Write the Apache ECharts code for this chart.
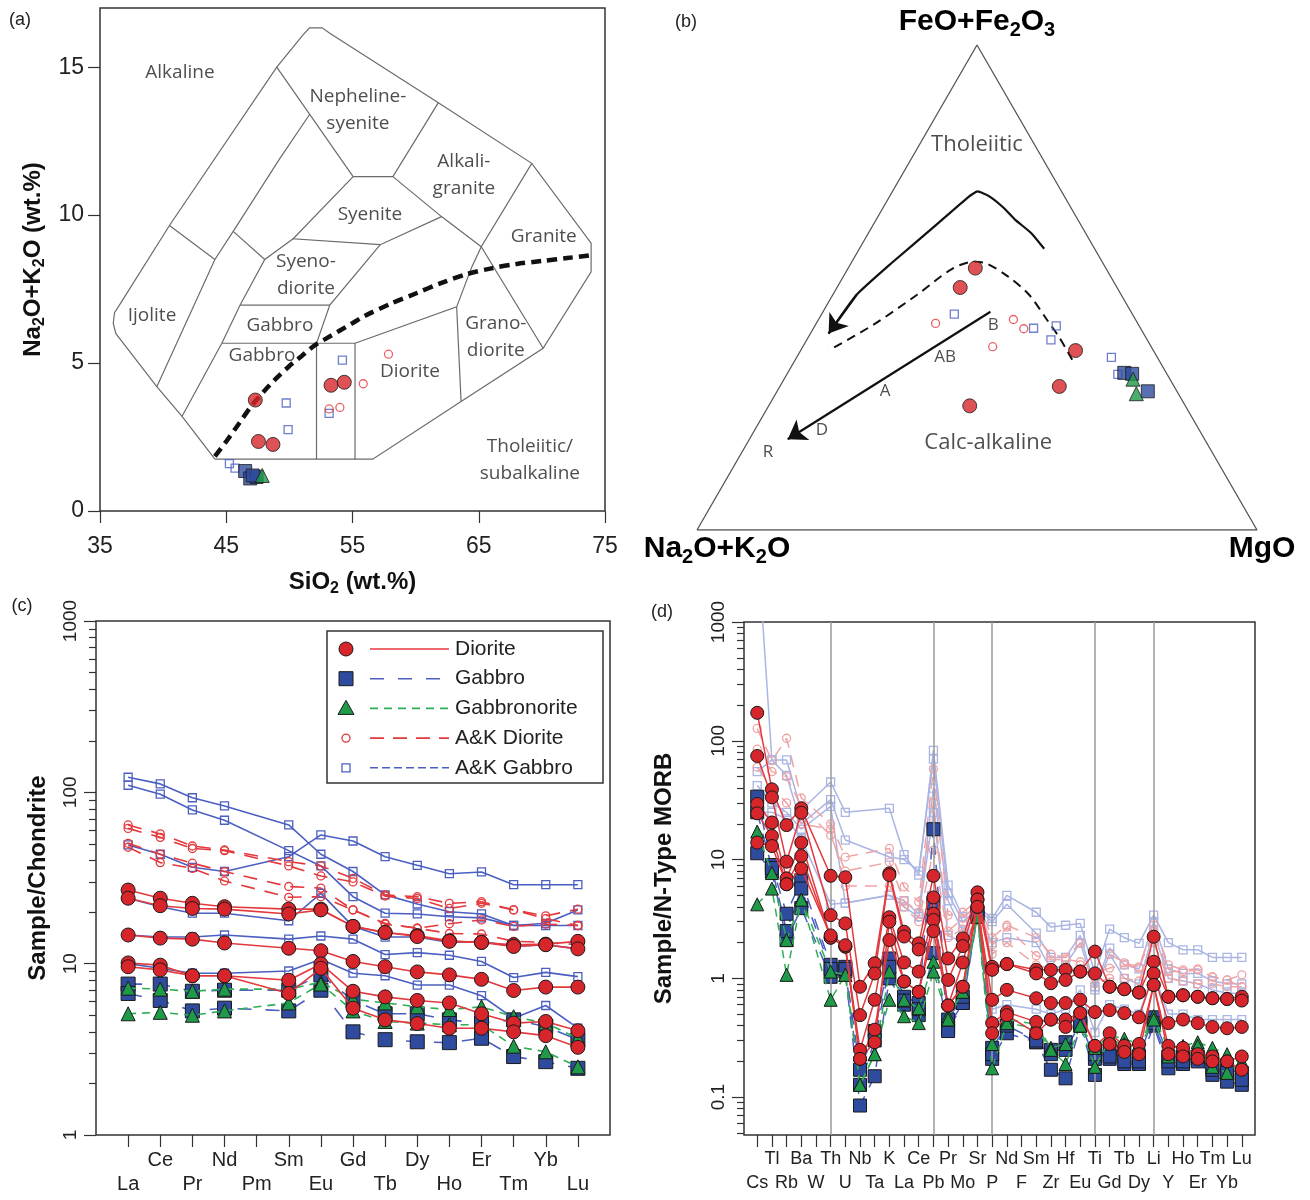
<!DOCTYPE html>
<html>
<head>
<meta charset="utf-8">
<script src="https://cdn.jsdelivr.net/npm/echarts@6/dist/echarts.min.js"></script>
<style>html,body{margin:0;padding:0;background:#fff}#main{width:1310px;height:1200px}</style>
</head>
<body>
<div id="main"></div>
<script>
// ---------- (a) TAS diagram, SiO2 vs Na2O+K2O (wt.%) ----------
var tasDiorite = [[47.3, 3.75], [47.55, 2.35], [48.7, 2.25], [53.3, 4.25], [54.35, 4.35]];
var tasGabbro = [[46.5, 1.35], [46.9, 1.1], [47.4, 1.15], [47.1, 1.2]];
var tasGabbronorite = [[47.85, 1.2]];
var tasAkDiorite = [[53.15, 3.45], [54.0, 3.5], [55.85, 4.3], [57.85, 5.3]];
var tasAkGabbro = [[54.2, 5.1], [49.75, 3.65], [49.9, 2.75], [53.15, 3.3], [45.25, 1.6], [45.7, 1.45]];

// field boundaries (Cox et al. plutonic version)
var tasFieldLines = [
  [[44.1, 1.75], [56.6, 1.75], [63.6, 3.7], [70.1, 5.5], [73.9, 8.08], [73.9, 9.05], [69.2, 11.75], [61.8, 13.8],
   [53.2, 16.15], [52.6, 16.33], [51.6, 16.33], [51.1, 16.1], [49.0, 15.0], [40.5, 9.65], [36.6, 7.0], [36.15, 6.7],
   [36.05, 6.35], [36.25, 6.0], [36.7, 5.75], [39.5, 4.2], [41.5, 3.2], [44.1, 1.75]],
  [[49.0, 15.0], [55.05, 11.3]],
  [[55.05, 11.3], [58.2, 11.3], [61.8, 13.8]],
  [[58.2, 11.3], [62.05, 9.95], [65.2, 8.93]],
  [[69.2, 11.75], [65.2, 8.93], [70.1, 5.5]],
  [[55.05, 11.3], [50.3, 9.2], [57.2, 9.0], [62.05, 9.95]],
  [[51.6, 13.4], [49.25, 11.92], [45.55, 9.45], [44.1, 8.5], [39.5, 4.2]],
  [[40.5, 9.65], [44.1, 8.5]],
  [[45.55, 9.45], [48.05, 8.5]],
  [[50.3, 9.2], [48.05, 8.5], [46.1, 6.96], [44.65, 5.67], [41.5, 3.2]],
  [[57.2, 9.0], [53.2, 6.96], [52.15, 5.67], [52.15, 1.75]],
  [[46.1, 6.96], [53.2, 6.96]],
  [[44.65, 5.67], [55.2, 5.67], [55.2, 1.75]],
  [[55.2, 5.67], [63.25, 6.9], [64.45, 8.25], [65.2, 8.93]],
  [[63.25, 6.9], [63.6, 3.7]]
];
// alkaline / subalkaline divide
var tasDivide = [[44.1, 1.85], [45, 2.35], [46, 2.95], [47, 3.55], [48, 4.05], [49, 4.5], [50, 4.9], [51, 5.25],
  [52, 5.6], [53, 5.85], [54, 6.1], [55, 6.35], [56, 6.6], [58, 7.0], [60, 7.35], [62, 7.7], [64, 8.0],
  [66, 8.2], [68, 8.35], [70, 8.45], [72, 8.55], [74, 8.65]];
var tasFieldNames = [
  ['Alkaline', 41.33, 14.83], ['Nepheline-\nsyenite', 55.43, 13.55], ['Alkali-\ngranite', 63.82, 11.35],
  ['Syenite', 56.38, 10.03], ['Granite', 70.15, 9.29], ['Syeno-\ndiorite', 51.31, 7.97], ['Ijolite', 39.12, 6.59],
  ['Gabbro', 49.25, 6.25], ['Gabbro', 47.83, 5.24], ['Grano-\ndiorite', 66.35, 5.88], ['Diorite', 59.55, 4.7],
  ['Tholeiitic/\nsubalkaline', 69.05, 1.72]
];

// ---------- (b) AFM ternary, [Na2O+K2O, FeO+Fe2O3, MgO] % ----------
var afmDiorite = [[23.3, 54.0, 22.7], [28.0, 50.0, 22.0], [13.9, 37.0, 49.1], [20.5, 29.6, 49.9], [38.5, 25.6, 35.9]];
var afmGabbro = [[7.5, 32.4, 60.1], [6.2, 32.2, 61.6], [5.2, 28.6, 66.2]];
var afmGabbronorite = [[6.6, 31.1, 62.3], [7.5, 28.1, 64.4]];
var afmAkDiorite = [[36.1, 42.6, 21.3], [21.8, 43.4, 34.8], [20.9, 41.5, 37.6], [28.3, 37.8, 33.9]];
var afmAkGabbro = [[31.8, 44.5, 23.7], [19.1, 41.6, 39.3], [14.8, 42.1, 43.1], [17.2, 39.2, 43.6], [8.2, 35.6, 56.2], [8.8, 32.1, 59.1]];
// curves in triangle plane (x along base, y = FeO fraction)
var afmTholeiiticCurve = [[0.620, 0.580], [0.597, 0.612], [0.568, 0.640], [0.548, 0.664], [0.522, 0.688], [0.501, 0.698],
  [0.485, 0.687], [0.424, 0.626], [0.347, 0.550], [0.285, 0.485], [0.235, 0.405]];
var afmCalcCurve = [[0.670, 0.351], [0.647, 0.397], [0.624, 0.435], [0.593, 0.485], [0.555, 0.523], [0.516, 0.550],
  [0.493, 0.553], [0.455, 0.538], [0.393, 0.485], [0.316, 0.424], [0.235, 0.370]];
var afmTrend = [[0.524, 0.450], [0.162, 0.187]];
var afmNames = [['Tholeiitic', 0.5, 0.794, 22], ['Calc-alkaline', 0.52, 0.179, 22], ['B', 0.529, 0.423, 17],
  ['AB', 0.443, 0.357, 17], ['A', 0.336, 0.287, 17], ['D', 0.223, 0.206, 17], ['R', 0.127, 0.161, 17]];

// ---------- (c) chondrite-normalised REE ----------
var reeElements = ['La', 'Ce', 'Pr', 'Nd', 'Pm', 'Sm', 'Eu', 'Gd', 'Tb', 'Dy', 'Ho', 'Er', 'Tm', 'Yb', 'Lu'];
var reeDiorite = [
  [26.9, 24.1, 22.5, 21.5, null, 20.8, 20.8, 16.5, 15.2, 14.6, 13.6, 13.3, 12.9, 13.0, 13.5],
  [24.1, 21.8, 21.0, 20.8, null, 19.5, 20.6, 16.5, 15.2, 14.4, 13.5, 13.3, 12.6, 12.9, 12.2],
  [14.7, 14.1, 13.9, 13.2, null, 12.3, 11.9, 10.3, 9.6, 8.95, 8.6, 8.1, 6.97, 7.3, 7.3],
  [10.1, 9.8, 8.5, 8.5, null, 8.0, 9.96, 6.9, 6.4, 6.1, 5.9, 5.1, 4.5, 4.6, 4.06],
  [9.6, 9.2, 8.5, 8.5, null, 6.7, 9.4, 5.5, 4.7, 4.47, 4.2, 4.2, 4.0, 3.8, 3.25]
];
var reeGabbro = [
  [7.6, 7.6, 6.9, 7.0, null, 7.0, 8.6, 6.1, 5.1, 5.1, 4.7, 4.5, 4.7, 4.3, 3.6],
  [6.7, 6.1, 5.3, 5.5, null, 5.3, 7.0, 4.0, 3.6, 3.5, 3.46, 3.67, 2.87, 2.68, 2.45]
];
var reeGabbronorite = [
  [7.2, 7.1, 6.9, 7.1, null, 7.1, 7.8, 6.2, 5.9, 5.6, 5.4, 5.6, 4.9, 4.5, 3.67],
  [5.1, 5.2, 5.0, 5.3, null, 5.9, 7.6, 5.3, 4.6, 4.5, 4.4, 4.4, 3.3, 3.06, 2.5]
];
var reeAkDiorite = [
  [64.5, 57.2, 48.6, 46.1, null, 39.4, 37.2, 31.5, 25.2, 24.6, 22.5, 23.0, 20.6, 19.0, 20.8],
  [61.6, 54.6, 47.0, 45.7, null, 37.2, 32.5, 30.0, 24.8, 24.0, 21.0, 22.5, 20.6, 18.3, 16.7],
  [50.4, 43.5, 38.6, 34.5, null, 28.2, 27.6, 20.6, 17.2, 16.1, 17.1, 18.0, 16.5, 17.0, 16.7],
  [47.8, 38.9, 36.0, 30.4, null, 24.4, 24.6, 20.6, 17.0, 16.1, 15.0, 14.9, 13.5, 13.3, 12.9]
];
var reeAkGabbro = [
  [122.5, 112, 93, 83.3, null, 64.5, 43.5, 34.5, 25.2, 22.3, 20.1, 19.5, 16.7, 17.2, 20.6],
  [110, 97.5, 78.9, 68.7, null, 45.7, 37.2, 24.6, 19.7, 19.5, 18.8, 18.5, 16.7, 16.7, 16.7],
  [49.3, 43.5, 36.5, 34.5, null, 42.1, 56.4, 52, 42.1, 37.5, 33.5, 34.3, 28.9, 28.9, 28.9],
  [24.1, 21.5, 19.7, 19.7, null, 17.8, 25.7, 16.5, 14.3, 14.3, 13.3, 13.5, 12.6, 12.9, 12.2],
  [14.7, 14.3, 14.3, 14.7, null, 13.9, 14.5, 13.9, 11.3, 11.6, 11.2, 10.3, 8.3, 8.9, 8.4],
  [10.0, 9.4, 8.8, 8.8, null, 9.06, 10.6, 8.8, 8.5, 7.5, 7.5, 6.5, 4.8, 5.7, 4.2]
];

// ---------- (d) N-MORB normalised spider ----------
var spiderElements = ['Cs', 'Tl', 'Rb', 'Ba', 'W', 'Th', 'U', 'Nb', 'Ta', 'K', 'La', 'Ce', 'Pb', 'Pr', 'Mo', 'Sr', 'P',
  'Nd', 'F', 'Sm', 'Zr', 'Hf', 'Eu', 'Ti', 'Gd', 'Tb', 'Dy', 'Li', 'Y', 'Ho', 'Er', 'Tm', 'Yb', 'Lu'];
var spiderDividers = ['Th', 'Pb', 'P', 'Ti', 'Li'];
var spDiorite = [
  [172, 39, 19.5, 27, null, 7.3, 7.1, 0.85, 1.34, 7.66, 2.47, 1.97, 7.3, 1.47, 2.17, 5.3, 1.25, 1.32, null, 1.18, 1.18, 1.18, 1.14, 1.68, 0.85, 0.81, 0.76, 2.24, 0.70, 0.72, 0.70, 0.68, 0.67, 0.70],
  [74.5, 33.4, 9.6, 24.8, null, 3.4, 2.9, 0.49, 1.1, 7.4, 2.25, 1.75, 4.8, 0.97, 1.87, 4.6, 1.18, 1.32, null, 1.10, 0.91, 0.97, 1.14, 1.10, 0.85, 0.81, 0.76, 1.38, 0.70, 0.72, 0.70, 0.68, 0.67, 0.65],
  [29.4, 20.5, 6.95, 13.9, null, 2.2, 1.85, 0.25, 0.66, 3.27, 1.36, 1.14, 3.5, 0.59, 1.36, 4.0, 0.66, 0.80, null, 0.68, 0.62, 0.62, 0.66, 0.52, 0.54, 0.51, 0.47, 1.10, 0.42, 0.45, 0.42, 0.39, 0.38, 0.39],
  [24.5, 15.8, 6.2, 10.7, null, 2.2, 1.85, 0.21, 0.37, 2.1, 0.94, 0.77, 3.1, 0.59, 0.85, 4.6, 0.42, 0.52, null, 0.43, 0.45, 0.45, 0.51, 0.27, 0.345, 0.27, 0.28, 0.88, 0.27, 0.26, 0.23, 0.22, 0.20, 0.22],
  [13.9, 13.0, 6.2, 8.4, null, 2.3, 1.9, 0.21, 0.29, 3.0, 0.94, 0.77, 2.5, 0.59, 0.85, 4.0, 0.345, 0.49, null, 0.345, 0.45, 0.39, 0.51, 0.27, 0.28, 0.24, 0.23, 0.88, 0.23, 0.22, 0.21, 0.20, 0.20, 0.17]
];
var spGabbro = [
  [33.8, 9.0, 3.5, 6.7, null, 1.3, 1.25, 0.17, 0.36, 1.47, 0.70, 0.62, 18, 0.39, 0.62, 3.5, 0.26, 0.40, null, 0.29, 0.23, 0.29, 0.42, 0.21, 0.25, 0.24, 0.22, 0.47, 0.22, 0.22, 0.21, 0.19, 0.17, 0.16],
  [11.3, 7.9, 2.1, 3.9, null, 1.03, 1.14, 0.085, 0.15, 1.0, 0.60, 0.49, 1.63, 0.36, 0.62, 3.3, 0.21, 0.345, null, 0.29, 0.17, 0.144, 0.40, 0.154, 0.21, 0.19, 0.19, 0.40, 0.175, 0.19, 0.20, 0.154, 0.135, 0.127],
  [25, 8.5, 2.5, 5.7, null, 1.2, 1.2, 0.127, 0.3, 1.25, 0.65, 0.55, 4.3, 0.45, 0.7, 3.6, 0.23, 0.40, null, 0.30, 0.25, 0.25, 0.42, 0.23, 0.22, 0.20, 0.20, 0.42, 0.20, 0.20, 0.22, 0.17, 0.16, 0.14]
];
var spGabbronorite = [
  [17.2, 7.7, 2.1, 4.6, null, 1.14, 1.07, 0.127, 0.23, 1.14, 0.66, 0.56, 1.38, 0.48, 0.77, 3.3, 0.28, 0.45, null, 0.41, 0.26, 0.28, 0.40, 0.26, 0.33, 0.31, 0.28, 0.48, 0.26, 0.27, 0.29, 0.26, 0.23, 0.19],
  [4.2, 5.7, 1.07, 4.6, null, 0.66, 1.07, 0.127, 0.23, 0.66, 0.48, 0.42, 1.14, 0.45, 0.77, 3.3, 0.175, 0.42, null, 0.38, 0.25, 0.19, 0.40, 0.18, 0.30, 0.28, 0.26, 0.45, 0.22, 0.25, 0.27, 0.18, 0.16, 0.20]
];
var spAkDiorite = [
  [127, 68, 105, 33, null, 20, 10.5, null, null, 12.4, 5.9, 4.4, 58, 3.4, 3.6, 4.5, 2.2, 2.8, null, 2.2, 1.6, 1.5, 1.97, 1.7, 1.6, 1.35, 1.25, 2.8, 1.3, 1.18, 1.2, 1.03, 0.97, 1.07],
  [85, 55, 50, 28, null, 16, 8, null, null, 9.5, 4.5, 3.6, 30, 2.5, 3.2, 4.2, 1.9, 2.7, null, 1.55, 1.43, 1.45, 1.38, 1.1, 1.22, 1.3, 1.22, 2.5, 1.14, 1.14, 1.18, 1.03, 0.97, 0.85],
  [60, 40, 30, 20, null, 18, 6, null, null, 6, 4, 3.0, 12, 2.2, 2.6, 4.0, 1.6, 2.0, null, 1.3, 1.2, 1.1, 1.3, 0.9, 1.0, 1.0, 0.95, 2.0, 1.0, 0.95, 0.9, 0.9, 0.85, 0.85]
];
var spAkGabbro = [
  [5000, 69, 69, 26, null, 45, 25, null, null, 27, 11, 7.4, 83, 6.1, 3.3, 4.0, 3.2, 5.0, null, 3.6, 2.7, 2.8, 2.9, 1.1, 2.6, 2.2, 1.97, 3.4, 2.0, 1.74, 1.74, 1.5, 1.5, 1.5],
  [55, 69, 51, 20, null, 32, 14.6, null, null, 10.5, 10, 8.0, 70, 5.2, 3.0, 3.8, 3.0, 4.2, null, 2.4, 1.5, 1.5, 2.3, 0.85, 1.8, 1.3, 1.2, 3.0, 1.2, 1.1, 1.1, 0.95, 0.9, 0.9],
  [42, 30, 25, 18, null, 28, 4.3, null, null, 5, 4.5, 3.5, 40, 4.5, 2.5, 3.5, 2.0, 2.2, null, 2.0, 1.2, 1.3, 2.0, 0.8, 1.6, 1.0, 0.9, 2.5, 1.0, 0.95, 0.9, 0.8, 0.75, 0.75],
  [25, 25, 22, 15, null, 4.2, 4.3, null, null, 5, 4.0, 3.3, 25, 2.3, 2.0, 3.2, 0.55, 0.6, null, 0.55, 0.5, 0.55, 0.8, 0.35, 0.6, 0.55, 0.5, 1.1, 0.5, 0.5, 0.45, 0.45, 0.45, 0.45]
];

var legendItems = ['Diorite', 'Gabbro', 'Gabbronorite', 'A&K Diorite', 'A&K Gabbro'];

// ---------------------------------------------------------------------------
var AX = 'Liberation Sans, Arial, Helvetica, sans-serif';
var FLD = 'Open Sans, Liberation Sans, sans-serif';
var RED = '#d6262b', BLUE = '#2e4b9e', GREEN = '#1f9a48';
var RED_L = '#e3393d', BLUE_L = '#4b5fc0', GREEN_L = '#2fae55';
var PINK = '#f0a3a5', SKY = '#aab5e3';
var CLEAR = 'rgba(255,255,255,0)';

var sty = {
  diorite: { symbol: 'circle', item: { color: RED, borderColor: '#1a1a1a', borderWidth: 1 } },
  gabbro: { symbol: 'rect', item: { color: BLUE, borderColor: '#1a1a1a', borderWidth: 1 } },
  gabbronorite: { symbol: 'triangle', item: { color: GREEN, borderColor: '#1a1a1a', borderWidth: 1 } },
  akDiorite: { symbol: 'circle', item: { color: CLEAR, borderColor: RED_L, borderWidth: 1.3 } },
  akGabbro: { symbol: 'rect', item: { color: CLEAR, borderColor: BLUE_L, borderWidth: 1.3 } }
};

function afmXY(p) {
  var s = p[0] + p[1] + p[2];
  var f = p[1] / s, m = p[2] / s;
  return [m + f / 2, f];
}

function marks(data, gi, kind, size, z) {
  return {
    type: 'scatter', xAxisIndex: gi, yAxisIndex: gi, data: data, symbol: sty[kind].symbol,
    symbolSize: size, itemStyle: sty[kind].item, silent: true, z: z || 5
  };
}

function profiles(rows, xi, yi, kind, size, line, itemOverride, z) {
  return rows.map(function (row) {
    var data = [];
    row.forEach(function (v, i) { if (v != null) data.push([i, v]); });
    return {
      type: 'line', xAxisIndex: xi, yAxisIndex: yi, data: data, symbol: sty[kind].symbol,
      symbolSize: size, showAllSymbol: true, itemStyle: itemOverride || sty[kind].item,
      lineStyle: line, silent: true, z: z
    };
  });
}

function logTicks(lo, hi) {
  var major = [], minor = [];
  for (var e = lo; e <= hi; e++) {
    var b = Math.pow(10, e);
    major.push(+b.toPrecision(3));
    for (var k = 2; k <= 9; k++) minor.push(+(k * b).toPrecision(3));
  }
  return { major: major, minor: minor };
}
var cTicks = logTicks(0, 3);
var dTicks = logTicks(-2, 3);
dTicks.major = dTicks.major.filter(function (v) { return v >= 0.1 && v <= 1000; });
dTicks.minor = dTicks.minor.filter(function (v) { return v >= 0.05 && v < 1000; });
cTicks.minor = cTicks.minor.filter(function (v) { return v < 1000; });
function plainNum(v) { return String(+(+v).toPrecision(6)); }

function idx(list, parity) {
  var out = [];
  list.forEach(function (e, i) { if (parity == null || i % 2 === parity) out.push(i); });
  return out;
}

var subRich = {
  b: { fontSize: 24, fontWeight: 'bold', fontFamily: AX, color: '#111', lineHeight: 30 },
  s: { fontSize: 16, fontWeight: 'bold', fontFamily: AX, color: '#111', lineHeight: 14, verticalAlign: 'bottom' }
};
var bigRich = {
  n: { fontSize: 30, fontWeight: 'bold', fontFamily: AX, color: '#111', lineHeight: 36 },
  s: { fontSize: 20, fontWeight: 'bold', fontFamily: AX, color: '#111', lineHeight: 18, verticalAlign: 'bottom' }
};

var series = [];

// (a)
series.push({
  type: 'lines', coordinateSystem: 'cartesian2d', xAxisIndex: 0, yAxisIndex: 0, polyline: true, silent: true,
  lineStyle: { color: '#6b6b6b', width: 1.2, opacity: 1 }, z: 1,
  data: tasFieldLines.map(function (c) { return { coords: c }; })
});
series.push({
  type: 'line', xAxisIndex: 0, yAxisIndex: 0, data: tasDivide, symbol: 'none', smooth: 0.3, silent: true,
  lineStyle: { color: '#111', width: 4.5, type: [10, 6] }, z: 2
});
series.push({
  type: 'scatter', xAxisIndex: 0, yAxisIndex: 0, symbolSize: 1, silent: true, itemStyle: { color: CLEAR },
  label: { show: true, position: 'inside', formatter: function (p) { return p.name; },
    fontSize: 19, fontFamily: FLD, color: '#222', lineHeight: 27, align: 'center' },
  data: tasFieldNames.map(function (f) { return { name: f[0], value: [f[1], f[2]] }; })
});
series.push(marks(tasAkGabbro, 0, 'akGabbro', 8));
series.push(marks(tasAkDiorite, 0, 'akDiorite', 8));
series.push(marks(tasGabbro, 0, 'gabbro', 13));
series.push(marks(tasGabbronorite, 0, 'gabbronorite', 14));
series.push(marks(tasDiorite, 0, 'diorite', 14));

// (b)
series.push({
  type: 'line', xAxisIndex: 1, yAxisIndex: 1, data: [[0, 0], [1, 0], [0.5, 1], [0, 0]], symbol: 'none',
  silent: true, lineStyle: { color: '#555', width: 1.3 }, z: 1
});
series.push({
  type: 'line', xAxisIndex: 1, yAxisIndex: 1, data: afmTholeiiticCurve, symbol: 'none', smooth: 0.15,
  silent: true, lineStyle: { color: '#111', width: 2.2 }, z: 2
});
series.push({
  type: 'line', xAxisIndex: 1, yAxisIndex: 1, data: afmCalcCurve, symbol: 'none', smooth: 0.3,
  silent: true, lineStyle: { color: '#111', width: 2, type: [9, 6] }, z: 2
});
series.push({
  type: 'lines', coordinateSystem: 'cartesian2d', xAxisIndex: 1, yAxisIndex: 1, silent: true,
  symbol: ['none', 'arrow'], symbolSize: 18, lineStyle: { color: '#111', width: 2.2, opacity: 1, curveness: 0 }, z: 2,
  data: [{ coords: afmTrend }, { coords: afmTholeiiticCurve.slice(-2) }]
});
series.push({
  type: 'scatter', xAxisIndex: 1, yAxisIndex: 1, symbolSize: 1, silent: true, itemStyle: { color: CLEAR },
  label: { show: true, position: 'inside', formatter: function (p) { return p.name; },
    fontFamily: FLD, color: '#222' },
  data: afmNames.map(function (f) { return { name: f[0], value: [f[1], f[2]], label: { fontSize: f[3] } }; })
});
series.push(marks(afmAkGabbro.map(afmXY), 1, 'akGabbro', 8));
series.push(marks(afmAkDiorite.map(afmXY), 1, 'akDiorite', 8));
series.push(marks(afmGabbro.map(afmXY), 1, 'gabbro', 13));
series.push(marks(afmGabbronorite.map(afmXY), 1, 'gabbronorite', 14));
series.push(marks(afmDiorite.map(afmXY), 1, 'diorite', 14));

// (c)
series = series.concat(
  profiles(reeAkGabbro, 2, 2, 'akGabbro', 8, { color: BLUE_L, width: 1.6 }, null, 3),
  profiles(reeAkDiorite, 2, 2, 'akDiorite', 8, { color: RED_L, width: 1.6, type: [14, 10] }, null, 3),
  profiles(reeGabbro, 2, 2, 'gabbro', 14, { color: BLUE_L, width: 1.6, type: [14, 14] }, null, 4),
  profiles(reeGabbronorite, 2, 2, 'gabbronorite', 14, { color: GREEN_L, width: 1.6, type: [8, 6] }, null, 5),
  profiles(reeDiorite, 2, 2, 'diorite', 14, { color: RED_L, width: 1.6 }, null, 6)
);

// (d)
var dAkG = profiles(spAkGabbro, 3, 4, 'akGabbro', 8, { color: SKY, width: 1.5 },
  { color: CLEAR, borderColor: SKY, borderWidth: 1.3 }, 3);
dAkG[0].markLine = {
  silent: true, symbol: 'none', label: { show: false },
  lineStyle: { color: '#9a9a9a', width: 1.5, type: 'solid' },
  data: spiderDividers.map(function (e) { return { xAxis: spiderElements.indexOf(e) }; })
};
series = series.concat(
  dAkG,
  profiles(spAkDiorite, 3, 4, 'akDiorite', 8, { color: PINK, width: 1.5, type: [12, 8] },
    { color: CLEAR, borderColor: PINK, borderWidth: 1.3 }, 3),
  profiles(spGabbro, 3, 4, 'gabbro', 13, { color: BLUE_L, width: 1.5, type: [12, 10] }, null, 4),
  profiles(spGabbronorite, 3, 4, 'gabbronorite', 13, { color: GREEN_L, width: 1.5, type: [8, 6] }, null, 5),
  profiles(spDiorite, 3, 4, 'diorite', 13, { color: RED_L, width: 1.5 }, null, 6)
);

// legend for (c), drawn as graphics
var legendSpec = [
  { shape: 'circle', fill: RED, line: RED_L, dash: null },
  { shape: 'rect', fill: BLUE, line: BLUE_L, dash: [14, 14] },
  { shape: 'triangle', fill: GREEN, line: GREEN_L, dash: [8, 6] },
  { shape: 'ocircle', fill: null, line: RED_L, dash: [14, 9] },
  { shape: 'orect', fill: null, line: BLUE_L, dash: [8, 4] }
];
var legendChildren = [{
  type: 'rect', shape: { x: 0, y: 0, width: 276, height: 152 },
  style: { fill: '#fff', stroke: '#333', lineWidth: 1.5 }
}];
legendItems.forEach(function (name, i) {
  var s = legendSpec[i], y = 18 + i * 29.7, sym;
  if (s.shape === 'circle') sym = { type: 'circle', shape: { cx: 19, cy: y, r: 7 }, style: { fill: s.fill, stroke: '#1a1a1a', lineWidth: 1 } };
  else if (s.shape === 'rect') sym = { type: 'rect', shape: { x: 12, y: y - 7, width: 14, height: 14 }, style: { fill: s.fill, stroke: '#1a1a1a', lineWidth: 1 } };
  else if (s.shape === 'triangle') sym = { type: 'polygon', shape: { points: [[19, y - 8], [27, y + 6], [11, y + 6]] }, style: { fill: s.fill, stroke: '#1a1a1a', lineWidth: 1 } };
  else if (s.shape === 'ocircle') sym = { type: 'circle', shape: { cx: 19, cy: y, r: 4 }, style: { fill: 'none', stroke: s.line, lineWidth: 1.3 } };
  else sym = { type: 'rect', shape: { x: 15, y: y - 4, width: 8, height: 8 }, style: { fill: 'none', stroke: s.line, lineWidth: 1.3 } };
  legendChildren.push(sym);
  legendChildren.push({ type: 'line', shape: { x1: 43, y1: y, x2: 122, y2: y },
    style: { stroke: s.line, lineWidth: 1.6, lineDash: s.dash } });
  legendChildren.push({ type: 'text', x: 128, y: y,
    style: { text: name, fontSize: 21, fontFamily: AX, fill: '#222', verticalAlign: 'middle', textVerticalAlign: 'middle' } });
});

function panelLabel(t, x, y) {
  return { type: 'text', x: x, y: y, style: { text: t, fontSize: 18, fontFamily: AX, fill: '#222', align: 'center', textAlign: 'center', verticalAlign: 'middle', textVerticalAlign: 'middle' } };
}
function bigLabel(t, x, y) {
  return { type: 'text', x: x, y: y, style: { text: t, rich: bigRich, align: 'center', textAlign: 'center', verticalAlign: 'middle', textVerticalAlign: 'middle' } };
}

var tickStyle = { color: '#333', width: 1.2 };
var labStyle = function (fs) { return { fontSize: fs, color: '#222', fontFamily: AX }; };
var noLine = { show: false, onZero: false };

// element axes: one carries ticks + upper-row labels, a second (same grid) carries lower-row labels
function elementAxes(gi, names, lo, hi, fs) {
  var fmt = function (v) { return names[Math.round(v)]; };
  return [
    { gridIndex: gi, type: 'value', min: lo, max: hi, position: 'bottom', axisLine: noLine, splitLine: { show: false },
      axisTick: { length: 12, lineStyle: tickStyle, customValues: idx(names) },
      axisLabel: Object.assign(labStyle(fs), { margin: 15, showMinLabel: true, showMaxLabel: true,
        customValues: idx(names, 1), formatter: fmt }) },
    { gridIndex: gi, type: 'value', min: lo, max: hi, position: 'bottom', offset: 0, axisLine: noLine,
      splitLine: { show: false }, axisTick: { show: false },
      axisLabel: Object.assign(labStyle(fs), { margin: 39, showMinLabel: true, showMaxLabel: true,
        customValues: idx(names, 0), formatter: fmt }) }
  ];
}
var cX = elementAxes(2, reeElements, -1, 15, 20);
var dX = elementAxes(3, spiderElements, -0.9, 33.9, 18);

function logAxes(gi, lo, hi, ticks, name, gap) {
  return [
    { gridIndex: gi, type: 'log', logBase: 10, min: lo, max: hi, position: 'left', axisLine: noLine, splitLine: { show: false },
      axisTick: { length: 12, lineStyle: tickStyle, customValues: ticks.major },
      axisLabel: Object.assign(labStyle(19), { margin: 16, rotate: 90, showMinLabel: true, showMaxLabel: true,
        customValues: ticks.major, formatter: plainNum }),
      name: name, nameLocation: 'middle', nameGap: gap,
      nameTextStyle: { fontSize: 24, fontWeight: 'bold', color: '#111', fontFamily: AX } },
    { gridIndex: gi, type: 'log', logBase: 10, min: lo, max: hi, position: 'left', offset: 0, axisLine: noLine,
      splitLine: { show: false }, axisLabel: { show: false },
      axisTick: { length: 7, lineStyle: tickStyle, customValues: ticks.minor } }
  ];
}
var cY = logAxes(2, 1, 1000, cTicks, 'Sample/Chondrite', 46);
var dY = logAxes(3, 0.048, 1000, dTicks, 'Sample/N-Type MORB', 68);

var option = {
  animation: false,
  backgroundColor: '#fff',
  textStyle: { fontFamily: AX },
  grid: [
    { left: 100, top: 8, width: 505, height: 503, show: true, borderColor: '#333', borderWidth: 1.5, backgroundColor: CLEAR, outerBoundsMode: 'none' },
    { left: 697, top: 45, width: 560, height: 485, show: false, outerBoundsMode: 'none' },
    { left: 96, top: 621, width: 514, height: 514, show: true, borderColor: '#333', borderWidth: 1.5, backgroundColor: CLEAR, outerBoundsMode: 'none' },
    { left: 744, top: 622, width: 511, height: 513, show: true, borderColor: '#333', borderWidth: 1.5, backgroundColor: CLEAR, outerBoundsMode: 'none' }
  ],
  xAxis: [
    { gridIndex: 0, type: 'value', min: 35, max: 75, axisLine: noLine, splitLine: { show: false },
      axisTick: { length: 12, lineStyle: tickStyle, customValues: [35, 45, 55, 65, 75] },
      axisLabel: Object.assign(labStyle(23), { margin: 24, showMinLabel: true, showMaxLabel: true, customValues: [35, 45, 55, 65, 75] }),
      name: '{b|SiO}{s|2}{b| (wt.%)}', nameLocation: 'middle', nameGap: 56, nameTextStyle: { rich: subRich } },
    { gridIndex: 1, type: 'value', min: 0, max: 1, show: false },
    cX[0],
    dX[0],
    cX[1],
    dX[1]
  ],
  yAxis: [
    { gridIndex: 0, type: 'value', min: 0, max: 17, axisLine: noLine, splitLine: { show: false },
      axisTick: { length: 12, lineStyle: tickStyle, customValues: [0, 5, 10, 15] },
      axisLabel: Object.assign(labStyle(23), { margin: 16, showMinLabel: true, customValues: [0, 5, 10, 15] }),
      name: '{b|Na}{s|2}{b|O+K}{s|2}{b|O (wt.%)}', nameLocation: 'middle', nameGap: 52, nameTextStyle: { rich: subRich } },
    { gridIndex: 1, type: 'value', min: 0, max: 1, show: false },
    cY[0], cY[1],
    dY[0], dY[1]
  ],
  graphic: [
    panelLabel('(a)', 20, 20),
    panelLabel('(b)', 686, 22),
    panelLabel('(c)', 22, 606),
    panelLabel('(d)', 662, 612),
    bigLabel('{n|FeO+Fe}{s|2}{n|O}{s|3}', 977, 22),
    bigLabel('{n|Na}{s|2}{n|O+K}{s|2}{n|O}', 717, 549),
    bigLabel('{n|MgO}', 1262, 549),
    { type: 'group', x: 327, y: 631, z: 100, children: legendChildren }
  ],
  series: series
};

var chart = echarts.init(document.getElementById('main'));
chart.setOption(option);
</script>
</body>
</html>
